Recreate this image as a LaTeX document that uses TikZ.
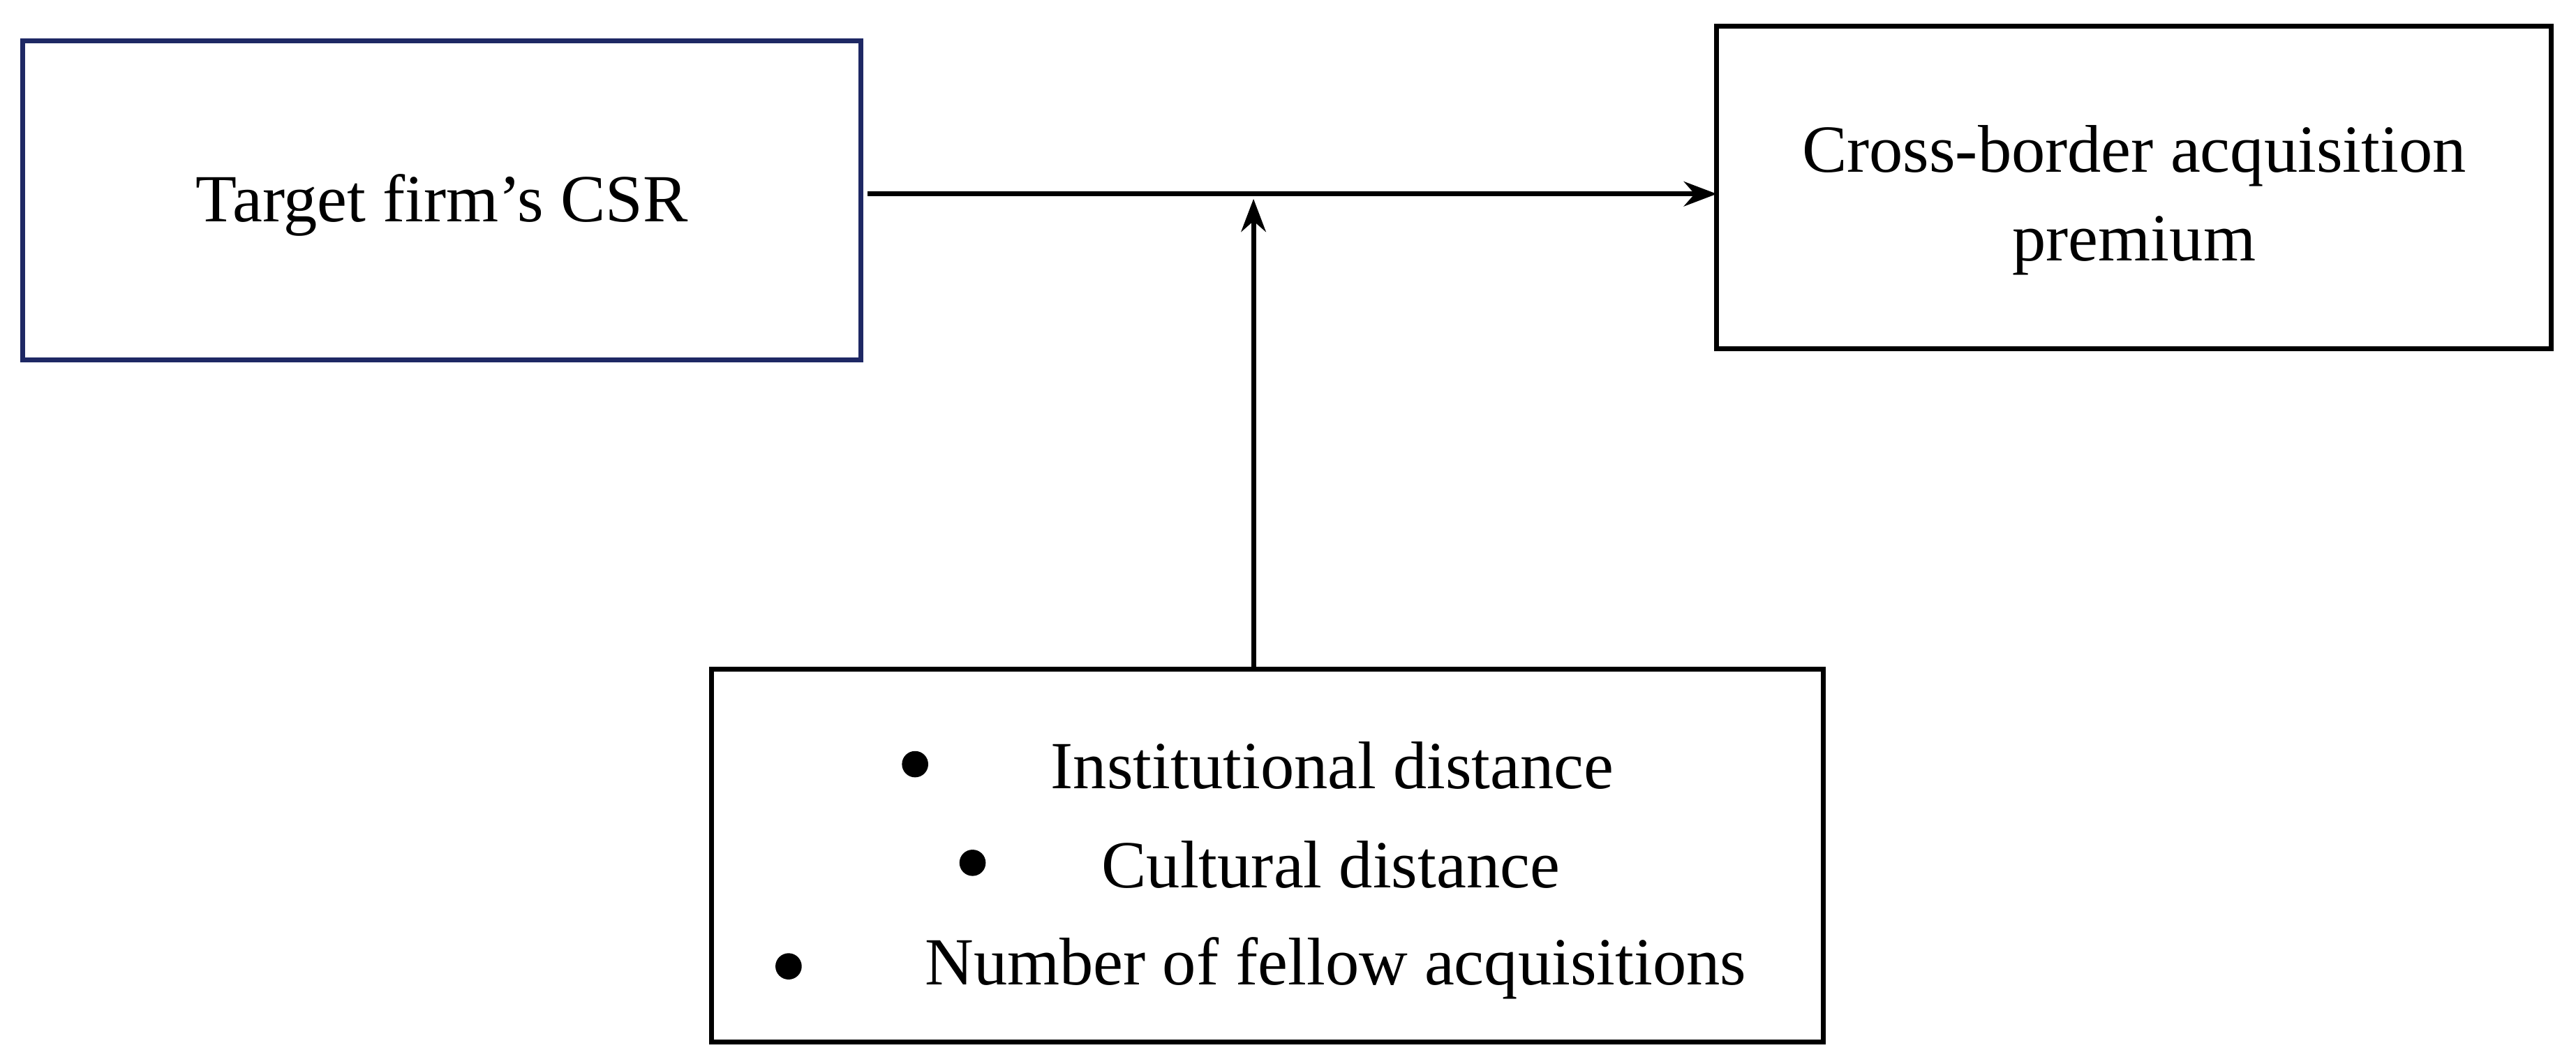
\documentclass[tikz,border=0pt]{standalone}
\usetikzlibrary{arrows.meta}
\usepackage{fontspec}
\setmainfont{Liberation Serif}
\begin{document}
\begin{tikzpicture}[x=1pt,y=-1pt,
  box/.style={draw,line width=3pt,inner sep=0},
  txt/.style={font=\fontsize{41}{48}\selectfont,align=center},
  arr/.style={line width=3pt,-{Stealth[length=20pt,width=15pt]}}]
\useasboundingbox (0,0) rectangle (1568,647);
\definecolor{navy}{RGB}{30,40,100}
\draw[box,draw=navy] (14,25) rectangle (524,219);
\node[txt] (a) at (269,125) {Target firm’s CSR};
\draw[box] (1045,16) rectangle (1553,212);
\node[txt] (b) at (1299,122) {Cross-border acquisition\\[6pt]premium};
\draw[box] (433,407) rectangle (1110,634);
\node[txt] (i1) at (811,466) {Institutional distance};
\node[txt] (i2) at (810,526) {Cultural distance};
\node[txt] (i3) at (813,589) {Number of fellow acquisitions};
\fill (557,465) circle (8); \fill (592,525) circle (8); \fill (480,588) circle (8);
\coordinate (s) at (528,118); \coordinate (e) at (1045,118);
\coordinate (m0) at (763,407); \coordinate (m1) at (763,121);
\draw[arr] (s) -- (e);
\draw[arr] (m0) -- (m1);
\end{tikzpicture}
\end{document}
